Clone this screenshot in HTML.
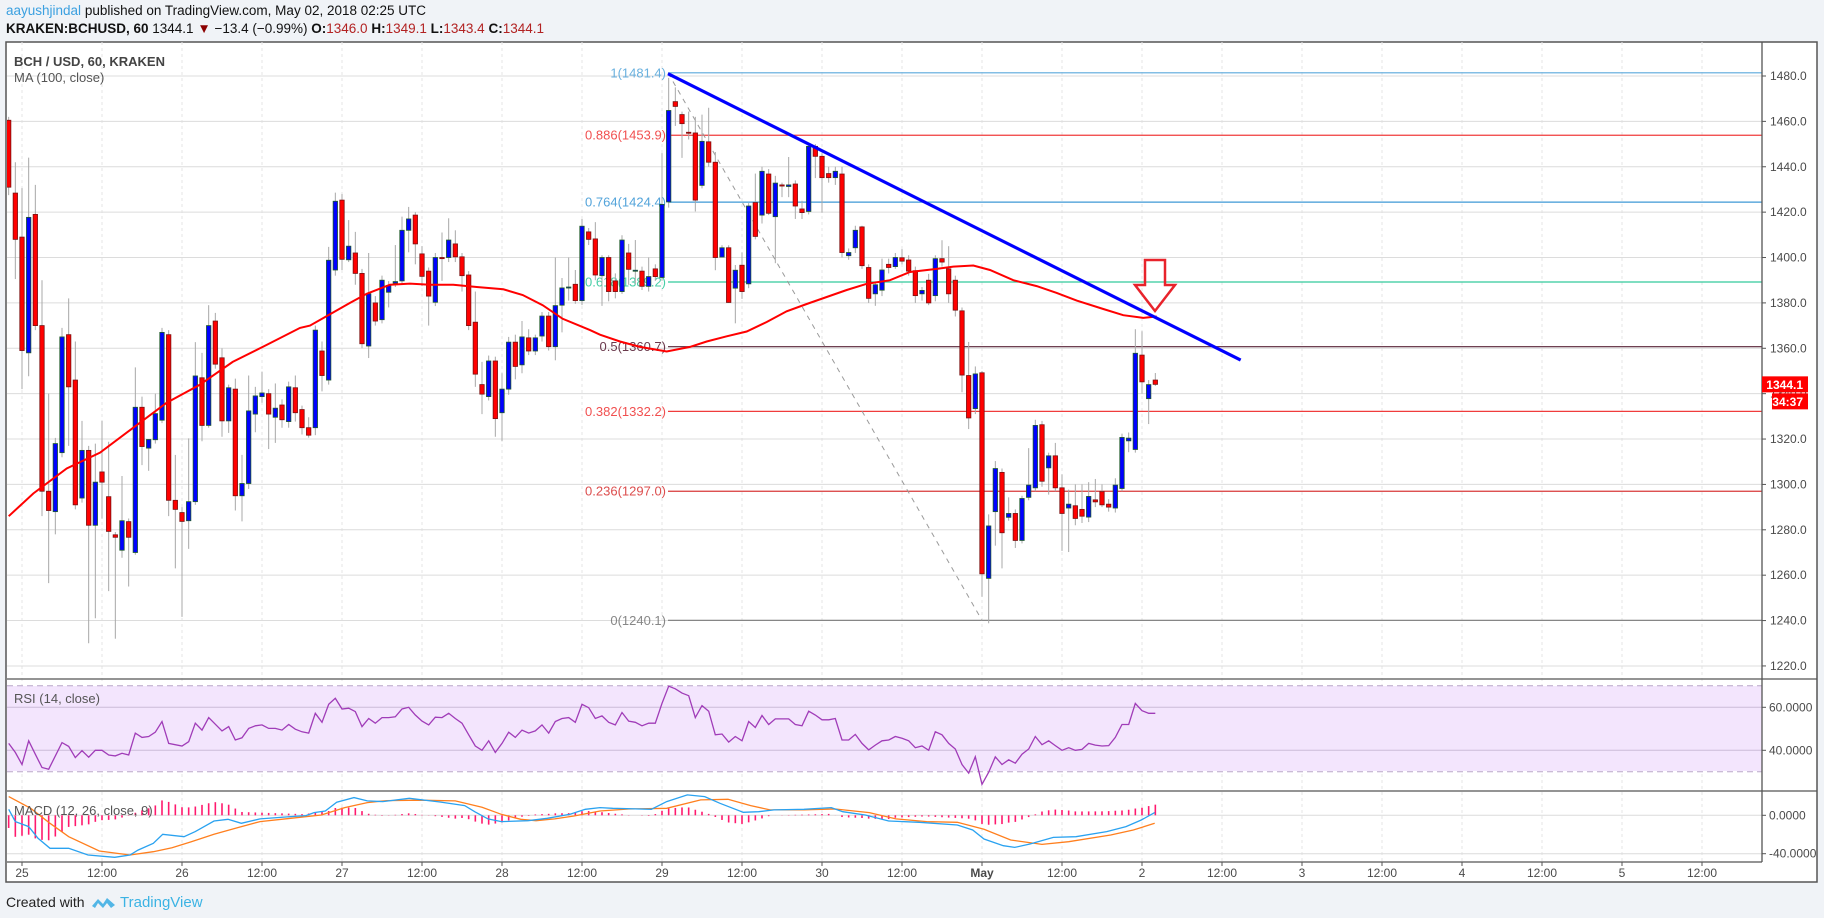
<!DOCTYPE html>
<html><head><meta charset="utf-8">
<style>
html,body{margin:0;padding:0;background:#f0f3f7;}
body{width:1824px;height:918px;overflow:hidden;position:relative;font-family:"Liberation Sans",sans-serif;}
.hdr{position:absolute;left:6px;font-size:13.5px;color:#111;white-space:nowrap;}
svg text{font-family:"Liberation Sans",sans-serif;}
</style></head>
<body>
<div class="hdr" style="top:3px"><span style="color:#3ba0e0">aayushjindal</span> published on TradingView.com, May 02, 2018 02:25 UTC</div>
<div class="hdr" style="top:21px"><b>KRAKEN:BCHUSD, 60</b> 1344.1 <span style="color:#8b0000">▼</span> −13.4 (−0.99%) <b>O:</b><span style="color:#b22222">1346.0</span> <b>H:</b><span style="color:#b22222">1349.1</span> <b>L:</b><span style="color:#b22222">1343.4</span> <b>C:</b><span style="color:#b22222">1344.1</span></div>
<svg id="chart" width="1824" height="918" style="position:absolute;left:0;top:0">
<defs>
<clipPath id="cp"><rect x="7" y="42" width="1755" height="637"/></clipPath>
<clipPath id="cr"><rect x="7" y="679" width="1755" height="112"/></clipPath>
<clipPath id="cm"><rect x="7" y="791" width="1755" height="71"/></clipPath>
</defs>
<rect x="6" y="42" width="1811" height="840" fill="#fff" stroke="#555" stroke-width="1.5"/>
<g id="grid"></g>
<rect x="7" y="686" width="1755" height="85" fill="#f3e5fd"/>
<g id="rsigrid"></g>
<g id="main" clip-path="url(#cp)"></g>
<g id="rsi" clip-path="url(#cr)"></g>
<g id="macd" clip-path="url(#cm)"></g>
<g id="axes"></g>
<text x="14" y="66" font-size="13" font-weight="bold" fill="#444">BCH / USD, 60, KRAKEN</text>
<text x="14" y="82" font-size="13" fill="#555">MA (100, close)</text>
<text x="14" y="703" font-size="13" fill="#555">RSI (14, close)</text>
<text x="14" y="815" font-size="13" fill="#555">MACD (12, 26, close, 9)</text>
<text x="6" y="907" font-size="14" fill="#222">Created with</text>
<g>
<path d="M92 906 L98 899 L103 904 L107 898 L115 905 L111 908 L107 903 L103 908 L98 903 L95 908 Z" fill="#52b6e6"/>
<text x="120" y="907" font-size="15" fill="#3bb3e4">TradingView</text>
</g>
</svg>
<script>
const opens=[1460.5,1428.4,1409,1358,1419,1370,1297,1288,1314,1366,
1346,1294,1315,1282,1305.5,1294.6,1277.8,1271,1283.6,1270,
1334,1316,1319.7,1328.3,1366,1293,1287.6,1284,1292.4,1347,
1326,1372,1355.8,1328,1342,1295,1300.4,1331,1338.7,1340,
1329.6,1335,1327.7,1342.6,1333,1325,1325,1358.8,1346,1394.5,
1425.3,1399,1402,1393,1361,1380,1372.6,1384.7,1388.7,1389.7,
1412,1418.7,1401.6,1394,1380.3,1400,1400,1406,1400.3,1392.3,
1371.5,1344,1338.7,1354.4,1331.6,1342,1362.7,1352.7,1364.6,1358.8,
1365.4,1374.2,1360.7,1379,1386.9,1388.2,1381,1411.3,1408.2,1392,
1400,1389.7,1385,1402,1394.4,1394,1387.3,1395,1391.2,1424.5,
1468.7,1463,1455.2,1454.9,1431.8,1451,1442,1400.2,1404.3,1386.5,
1396.6,1388.4,1424.2,1418.7,1436.8,1418,1432,1431.3,1432.4,1421.4,
1420.3,1449,1444.6,1437,1435.2,1436.8,1400.8,1404.3,1413.5,1395.6,
1384,1385.6,1397,1396,1399.9,1398.9,1394.2,1384,1390,1383.2,
1399.5,1395,1390,1376.5,1348,1333.4,1349.2,1258.6,1288,1305.3,
1285.5,1287.2,1275.3,1294.3,1298.5,1326.3,1307.3,1312.6,1298.5,1289.6,
1290.6,1289,1285.6,1293.2,1296.8,1291.3,1289.6,1298.2,1319.2,1315.4,
1357,1337.8,1346];
const highs=[1462,1442,1430.6,1444,1432,1390,1340,1320.5,1369,1382,
1363,1328,1317,1318,1328,1318.8,1279,1303.7,1285,1351.6,
1338.7,1320,1340,1369,1368,1313,1290,1320.3,1362.7,1358,
1379,1375.6,1360,1344,1346.6,1313,1348,1343,1349.7,1342,
1344.5,1337.5,1345.3,1348,1334.7,1329.6,1370,1363,1404.7,1428.6,
1428,1416.5,1411.3,1395,1402,1383,1392,1389.6,1405.5,1418,
1422.3,1420,1405,1395.6,1402,1411,1417.3,1412,1402,1394,
1385,1354,1356.8,1356.3,1349,1365,1366,1372,1368.4,1366,
1376,1376,1400,1391,1400,1394.5,1417,1413,1415.6,1401,
1401,1393,1409.8,1406,1407.7,1396,1400,1397,1446,1479.2,
1475,1464.3,1464.3,1462,1463,1466,1446.5,1405.4,1405.4,1396.7,
1402.2,1424,1437,1440,1439,1436,1433,1444.3,1434,1425,
1450.6,1450,1446,1440,1440,1440,1404,1414,1414,1397,
1389.5,1399.5,1399.5,1402,1403.7,1401,1396,1387,1392.8,1401,
1407.6,1405,1392,1378,1362.8,1352,1350,1286.8,1310.3,1307,
1294.3,1289,1295,1316,1328.5,1328,1314,1318.3,1304.4,1297.7,
1300,1300,1301,1302.4,1300,1293.5,1302.7,1322.4,1322.9,1368.4,
1367.5,1346,1349.1];
const lows=[1427.5,1390.5,1342,1347.7,1368,1286,1256.5,1278,1312,1317,
1289,1292,1230,1241,1285,1253,1232,1267.7,1255,1269,
1308.5,1306,1318,1327,1286,1263,1241.6,1271.6,1291,1319,
1325,1351,1321,1322.7,1288.5,1283.7,1298,1323,1336,1315.6,
1318.3,1325,1325,1327.7,1322,1320.6,1321.7,1341,1344,1392,
1394.5,1398,1388,1360,1355.7,1370,1371,1378,1387,1388,
1402.3,1397,1387.4,1370,1378.6,1389.7,1398,1398,1385,1368,
1343,1331,1337,1321,1319,1339.5,1346.3,1349,1357,1357,
1363,1359,1354.7,1367,1381,1379.6,1379,1405.5,1390,1378.7,
1380.7,1382,1384,1388,1388.4,1385.7,1385,1389.7,1389.7,1422,
1458,1443.9,1452,1420.3,1430.5,1440,1394.4,1400,1380,1371,
1381.8,1386.5,1408,1415,1418.7,1397.5,1426.6,1426.6,1417,1417,
1419,1435,1419.8,1433,1432,1400,1399,1402,1395,1380,
1378.7,1383,1393,1395,1397,1392,1380,1381,1379,1380.7,
1396,1380,1374,1340.6,1324.4,1331,1250.5,1238.8,1273,1263,
1284,1272,1274,1293,1297,1299,1295.5,1297,1270.7,1270.2,
1282,1283,1283.4,1290,1290,1288,1287.6,1297,1314.2,1314,
1340,1326.6,1343.4];
const closes=[1431,1408,1359,1417.7,1370,1297,1288.5,1318,1365,1343,
1291,1315,1282,1301,1301,1279.3,1276.7,1284,1276.7,1334,
1316.7,1319.8,1331.2,1367,1293,1289,1283.7,1292.4,1347.8,1326,
1370,1353,1328,1342.6,1295,1300.4,1332.4,1339,1340.3,1331,
1333.6,1328.5,1343,1331.6,1325,1321.7,1368,1348,1398.8,1424.8,
1399.2,1405,1393,1362,1384,1372,1390,1387.7,1389.4,1412,
1417,1406,1391.7,1383,1400,1399.5,1407.7,1400.3,1392,1370,
1348.6,1339.8,1354.4,1329,1342,1362.7,1352,1365,1358.8,1364.6,
1374.2,1360.7,1378.8,1386.6,1387,1381,1413.8,1408,1392.3,1400,
1385,1385,1407.7,1394.8,1394.4,1387.3,1391.6,1391.6,1423.4,1464.8,
1466.6,1459,1455,1425.3,1451.2,1442,1400,1404.3,1380.2,1394.4,
1385,1422.7,1409.3,1438,1419.5,1432.8,1431.5,1432,1422.7,1419.8,
1449,1444.6,1435.2,1435.2,1438,1402.2,1402.2,1412,1396.4,1382,
1388,1394.5,1395.6,1400,1398.4,1394,1383.2,1385.5,1380,1399.5,
1398,1384,1376.8,1348.2,1329.3,1348.7,1260.6,1281.7,1307,1278.7,
1287.2,1275.3,1293.8,1299.7,1326,1301.4,1312.6,1298.5,1287.2,1291.3,
1285,1286,1294.7,1292.3,1291,1290,1299.7,1320.7,1320.4,1357.8,
1345.2,1344,1344.1];
const maIdx=[0,3.7,8.7,13.7,18.7,23.7,28.7,33.6,38.7,43.7,45.2,48.2,51.2,53.7,57.2,60.2,63.2,66.7,70.2,74.2,77.1,80.1,83.1,87.2,88.7,91.7,94.7,98.7,102.2,104.7,107.7,110.7,113.7,116.7,119.7,122.7,125.7,128.7,132.2,135.2,139.2,141.7,144.7,147.2,150.7,154.2,157.2,160.2,164.2,167.2,170.2,172.2];
const maVal=[1286,1296,1307,1314,1325,1336,1344,1354,1361.5,1369,1370,1375,1380,1384,1388,1388.5,1388,1388,1387,1386,1383.5,1379,1373,1368,1366,1363,1360.6,1358.6,1360.6,1363,1365.3,1367.4,1371.6,1376.3,1379.5,1382.6,1385.7,1388.4,1390,1393.6,1395,1396,1396.5,1394.5,1390,1387.4,1384.4,1381,1377.3,1374.6,1373.4,1374];
const rsiIdx=[0,1,2,3,4,5,6,8,9,10,11,12,13,14,15,16,17,18,19,20,21,22,23,24,26,27,28,29,30,32,33,34,35,36,37,38,39,40,41,42,43,44,45,46,47,48,49,50,51,52,53,54,55,56,57,58,59,60,61,62,63,64,65,66,67,68,69,70,71,72,73,74,75,76,77,78,79,80,81,82,83,84,85,86,87,88,89,90,91,92,93,94,95,96,97,98,99,100,101,102,103,104,105,106,107,108,109,110,111,112,113,114,115,116,117,118,119,120,121,122,123,124,125,126,127,128,129,130,131,132,133,134,135,136,137,138,139,140,141,142,143,144,145,146,147,148,149,150,151,152,153,154,155,156,157,158,159,160,161,162,163,164,165,166,167,168,169,170,171,172];
const rsiVal=[43.2,39,33.4,44.4,38.2,32,31.2,43.6,41.8,36.6,39.8,36.8,40,40,37.8,37.4,38.6,37.8,48,46,46.4,48.4,53.4,43.2,42,44,52.6,49.4,55.2,49,51,44.8,45.8,50.2,51.4,51.8,50.2,50.2,49.4,52,49.8,48.6,48,57.2,53,61.4,64.2,59.2,59.6,58,51,54.8,52.6,55.2,55.2,55.6,59.2,60,56.4,53.6,51.8,55.4,55.2,57.2,54.8,52.6,47.2,42,40,44.4,39,43.2,48.4,46,49.4,48,49,51.8,48,53.4,54.8,55.2,53,61.4,59.8,54.8,56,53,51.8,57.6,53.6,53,51.4,52.6,52.6,61.8,69.8,68.6,66.6,65.4,55.2,60.8,58.2,47.2,47.6,43.8,46.4,44.4,53.4,50.6,56.2,52,54.6,54.6,54.6,52,51.4,58.2,56.4,54.2,54.2,54.8,44.8,44.8,47.4,43.2,40.2,42.4,44.4,44.8,46.4,45.6,44.4,41.2,42,40,48.6,47.2,43.2,40.6,33.4,29.4,37,24.2,29.8,37,33.4,35.6,34,38.2,40.6,46.4,42.6,44.4,42.2,40,41.2,40,40.4,43.2,42.4,42,42.2,46,52,52,61.8,58.4,57.2,57.2];
const macdIdx=[0,1,3,4.4,6.2,9,11.9,15.9,18.2,19.4,21.7,23.1,26.3,28,30.8,32.9,34.9,37.7,42.3,44.6,45.8,47.5,49.2,51.8,53.8,56.1,60.1,64.7,68.4,69.9,71.9,73.9,77.9,80.8,84.2,86.5,88.7,90.6,96.4,98.7,101.8,104.4,106.7,110.2,112.5,114.8,119.3,123.4,125.1,128.5,132,136.6,142.3,144.6,146.3,149.2,150.9,153.2,156.7,160.1,164.7,167.6,169.9,171.9];
const macdVal=[6.3,-6.6,-11.8,-24,-34.4,-34.4,-41.4,-43.8,-41.4,-36.2,-29.2,-19.8,-22.3,-17,-5.9,-4.2,-8.3,-3.8,-1.4,-0.3,2.8,4.5,13.6,18.4,15,14.3,17.7,13.9,10.1,3.8,-3.8,-6.6,-5.6,-3.1,1,6.3,8,7.3,6.3,14.3,21.2,19.5,12.5,3.1,3.8,5.6,6.3,8,3.8,0.3,-5.9,-7.3,-10.1,-15.3,-24.7,-31.7,-33.4,-29.9,-23,-22.3,-17,-11.8,-4.9,2.8];
const sigIdx=[0,3.3,6.2,9,13.6,18.2,21.7,24.5,27.4,30.8,34.3,37.7,42.3,46.9,50.4,53.8,56.7,61.8,67,71,73.9,76.8,79.1,81.9,84.8,88.7,93,98.7,103.8,107.9,111.3,114.2,119.3,124,129.1,133.1,137.7,142.3,146.3,150.3,155,159,165.3,168.7,171.9];
const sigVal=[19.5,7.3,-8.3,-22.3,-37.2,-41.4,-37.9,-33.7,-27.5,-19.8,-12.9,-6.6,-3.1,0.3,8,13.2,15.3,15.7,15,8.3,1,-4.2,-5.6,-3.8,-0.7,4.5,6.6,7.3,16,16.7,10.1,5.6,5.6,6.6,2.8,-3.8,-6.6,-7.3,-14.6,-25.7,-30.3,-27.5,-20.5,-15.3,-8.3];
const priceTicks=[1220,1240,1260,1280,1300,1320,1340,1360,1380,1400,1420,1440,1460,1480];
const rsiTicks=[40,60];
const macdTicks=[0,-40];
const timeLabels=["25","12:00","26","12:00","27","12:00","28","12:00","29","12:00","30","12:00","May","12:00","2","12:00","3","12:00","4","12:00","5","12:00"];
const fibRatios=["1","0.886","0.764","0.618","0.5","0.382","0.236","0"];
const fibValues=[1481.4,1453.9,1424.4,1389.2,1360.7,1332.2,1297.0,1240.1];
const fibColors=["#5aa9dc","#f03c3c","#3f99d6","#33c99c","#5a2438","#f03c3c","#d83a3a","#7a7a7a"];
const fibStartIdx=98.9, fibEndIdx=146;
const trendIdx=[98.9,184.8];
const trendVal=[1481,1354.8];
const lastPrice=1344.1, countdown="34:37";

const NS="http://www.w3.org/2000/svg";
const X=i=>22+(i-2)*160/24;
const YP=p=>76+(1480-p)*2.269;
const YR=r=>707.3+(60-r)*2.15;
const YM=m=>815.3-m*0.96;
function el(tag,attrs,parent,text){const e=document.createElementNS(NS,tag);for(const k in attrs)e.setAttribute(k,attrs[k]);if(text!==undefined)e.textContent=text;parent.appendChild(e);return e;}
function interp(ix,vals,i){if(i<=ix[0])return vals[0];for(let k=1;k<ix.length;k++){if(i<=ix[k]){const t=(i-ix[k-1])/(ix[k]-ix[k-1]);return vals[k-1]+t*(vals[k]-vals[k-1]);}}return vals[vals.length-1];}
const grid=document.getElementById('grid'),main=document.getElementById('main'),rsiG=document.getElementById('rsi'),macdG=document.getElementById('macd'),axes=document.getElementById('axes'),rsiGrid=document.getElementById('rsigrid');

timeLabels.forEach((lab,k)=>{
  const x=22+k*80;
  const v=el('line',{x1:x,x2:x,y1:42,y2:862,stroke:'#e4e4e4','stroke-dasharray':'3,3'},grid);
  
  
  el('line',{x1:x,x2:x,y1:862,y2:866,stroke:'#555'},axes);
  const t=el('text',{x:x,y:877,'font-size':12,fill:'#4a4a4a','text-anchor':'middle','font-weight':lab==='May'?'bold':'normal'},axes,lab);
  
  
});
priceTicks.forEach(p=>{
  const y=YP(p);
  const g=el('line',{x1:7,x2:1762,y1:y,y2:y,stroke:'#dcdcdc'},grid);
  
  
  el('line',{x1:1762,x2:1766,y1:y,y2:y,stroke:'#555'},axes);
  const t=el('text',{x:1770,y:y+4,'font-size':12,fill:'#4a4a4a'},axes,p.toFixed(1));
  
  
});
[70,30].forEach(r=>{const l=el('line',{x1:7,x2:1762,y1:YR(r),y2:YR(r),stroke:'#b9a6c9','stroke-dasharray':'6,4'},rsiGrid);
  
  });
rsiTicks.forEach(r=>{const y=YR(r);el('line',{x1:7,x2:1762,y1:y,y2:y,stroke:'#cbbcd8'},rsiGrid);
  el('line',{x1:1762,x2:1766,y1:y,y2:y,stroke:'#555'},axes);
  const t=el('text',{x:1769,y:y+4,'font-size':12,fill:'#4a4a4a'},axes,r.toFixed(4));
  
  });
macdTicks.forEach(m=>{const y=YM(m);el('line',{x1:7,x2:1762,y1:y,y2:y,stroke:'#dcdcdc'},grid);
  el('line',{x1:1762,x2:1766,y1:y,y2:y,stroke:'#555'},axes);
  const t=el('text',{x:1769,y:y+4,'font-size':12,fill:'#4a4a4a'},axes,m.toFixed(4));
  
  });
[[7,679,1817,679],[7,791,1817,791],[7,862,1762,862],[1762,42,1762,862]].forEach(a=>{el('line',{x1:a[0],y1:a[1],x2:a[2],y2:a[3],stroke:'#555','stroke-width':1.3},axes);});

fibValues.forEach((v,k)=>{
  const y=YP(v);
  const l=el('line',{x1:X(fibStartIdx),x2:1762,y1:y,y2:y,stroke:fibColors[k],'stroke-width':1.2},main);
  
  
  const t=el('text',{x:X(fibStartIdx)-2,y:y+4.5,'font-size':13,fill:fibColors[k],'text-anchor':'end','fill-opacity':0.9},main,fibRatios[k]+'('+v.toFixed(1)+')');
  
  
});
const fd=el('line',{x1:X(fibStartIdx),y1:YP(fibValues[0]),x2:X(fibEndIdx),y2:YP(fibValues[7]),stroke:'#9a9a9a','stroke-dasharray':'5,5'},main);



for(let i=0;i<opens.length;i++){
  const x=X(i),o=opens[i],c=closes[i],up=c>=o;
  const w=el('line',{x1:x,x2:x,y1:YP(highs[i]),y2:YP(lows[i]),stroke:'#a8a8a8'},main);
  
  
  const top=YP(Math.max(o,c)),bot=YP(Math.min(o,c));
  const b=el('rect',{x:x-2.2,y:top,width:4.4,height:Math.max(1,bot-top),fill:up?'#0000ff':'#ff0000',stroke:up?'#1e5a2a':'#7a1010','stroke-width':0.8},main);
  
  
}
let d='';maIdx.forEach((ix,k)=>{d+=(k?'L':'M')+X(ix).toFixed(1)+' '+YP(maVal[k]).toFixed(1);});
const ma=el('path',{d:d,fill:'none',stroke:'#ff0000','stroke-width':2},main);


const tl=el('line',{x1:X(trendIdx[0]),y1:YP(trendVal[0]),x2:X(trendIdx[1]),y2:YP(trendVal[1]),stroke:'#0000ff','stroke-width':3.2},main);


const ar=el('path',{d:'M1145 260 L1165 260 L1165 285 L1175 285 L1155 311 L1135 285 L1145 285 Z',fill:'none',stroke:'#e8232b','stroke-width':2.5},main);


const ly=YP(lastPrice);
const lb=el('rect',{x:1762,y:ly-8,width:46,height:16,fill:'#ff0000'},axes);


el('text',{x:1803,y:ly+4.5,'font-size':12,fill:'#fff','text-anchor':'end','font-weight':'bold'},axes,lastPrice.toFixed(1));
const cb=el('rect',{x:1772,y:ly+9,width:36,height:16,fill:'#ff0000'},axes);


el('text',{x:1803,y:ly+21.5,'font-size':12,fill:'#fff','text-anchor':'end','font-weight':'bold'},axes,countdown);

d='';rsiIdx.forEach((ix,k)=>{d+=(k?'L':'M')+X(ix).toFixed(1)+' '+YR(rsiVal[k]).toFixed(1);});
const rl=el('path',{d:d,fill:'none',stroke:'#a03cb8','stroke-width':1.3},rsiG);



for(let i=0;i<closes.length;i++){
  const h=interp(macdIdx,macdVal,i)-interp(sigIdx,sigVal,i);
  const y0=YM(0),y1=YM(h);
  const hb=el('rect',{x:X(i)-0.8,y:Math.min(y0,y1),width:1.6,height:Math.abs(y1-y0),fill:'#ff1a6e'},macdG);
  
  
}
d='';sigIdx.forEach((ix,k)=>{d+=(k?'L':'M')+X(ix).toFixed(1)+' '+YM(sigVal[k]).toFixed(1);});
const sl=el('path',{d:d,fill:'none',stroke:'#ff7f1e','stroke-width':1.3},macdG);


d='';macdIdx.forEach((ix,k)=>{d+=(k?'L':'M')+X(ix).toFixed(1)+' '+YM(macdVal[k]).toFixed(1);});
const ml=el('path',{d:d,fill:'none',stroke:'#2aa2f0','stroke-width':1.3},macdG);


</script>
</body></html>
